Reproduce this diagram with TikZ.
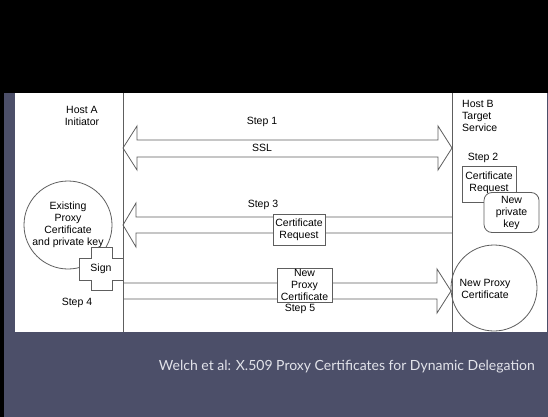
\documentclass[tikz,border=0pt]{standalone}
\usepackage{fontspec}
\setmainfont{Liberation Sans}
\newfontfamily\capfont{Lato}
\usepackage{xcolor}
\definecolor{slate}{HTML}{4C4F69}
\definecolor{linegray}{HTML}{5E5E5E}
\definecolor{capgray}{HTML}{E2E3EA}
\usepackage{tikz}
\usetikzlibrary{calc}

\begin{document}
\begin{tikzpicture}[x=1pt,y=-1pt,
			line/.style={draw=linegray,line width=0.8pt},
			txt/.style={font=\fontsize{10.5}{12}\selectfont,align=center,inner sep=0pt},
			box/.style={line,fill=white,font=\fontsize{10.5}{12}\selectfont,align=center,inner sep=0pt},
			]
			\useasboundingbox (0,0) rectangle (548,417);
			% 背景
			\fill[black] (0,0) rectangle (548,93);
			\fill[slate] (0,93) rectangle (548,417);
			\fill[black] (0,93) rectangle (4,417);
			\fill[white] (15,93) rectangle (547,332);
			
			% 两条竖线
			\coordinate (LA) at (123,93);
			\coordinate (LB) at (452,93);
			\draw[line] (LA) -- (123,332);
			\draw[line] (LB) -- (452,332);
			
			% 主机
			\node[txt] (hostA) at (82,116) {Host A\\Initiator};
			\node[txt,anchor=west,align=left] (hostB) at (462,116) {Host B\\Target\\Service};
			
			% Step 1: SSL 双向箭头
			\draw[line] (123,148) -- (137,126) -- (137,140) -- (438,140) -- (438,126)
			-- (452,148) -- (438,170) -- (438,157) -- (137,157) -- (137,170) -- cycle;
			\node[txt] (step1) at (262,122) {Step 1};
			\node[txt] (ssl) at (262,148) {SSL};
			
			% Step 2
			\node[txt] (step2) at (483,158) {Step 2};
			\node[box,minimum width=54pt,minimum height=36pt] (reqB) at (489,184) {};
			\node[txt] at (489,182.5) {Certificate\\Request};
			\node[box,rounded corners=8pt,minimum width=55pt,minimum height=40pt]
			(newkey) at (511.5,212.5) {New\\private\\key};
			
			% Step 3: 向左箭头
			\draw[line] (452,217) -- (136,217) -- (136,203) -- (123,225)
			-- (136,247) -- (136,233) -- (452,233);
			\node[txt] (step3) at (263,205) {Step 3};
			\node[box,minimum width=52pt,minimum height=31pt] (reqM) at (299,229.5)
			{Certificate\\Request};
			
			% 已有代理证书与签名
			\node[line,circle,minimum size=88pt,inner sep=0pt] (oldcert) at (68,225) {};
			\node[txt] at (68,225) {Existing\\Proxy\\Certificate\\and private key};
			\draw[line,fill=white] (91,247) -- (112,247) -- (112,258) -- (123,258)
			-- (123,280) -- (112,280) -- (112,290) -- (91,290) -- (91,280)
			-- (79,280) -- (79,258) -- (91,258) -- cycle;
			\node[txt] (sign) at (101,269) {Sign};
			\node[txt] (step4) at (77,303) {Step 4};
			
			% Step 5: 向右箭头
			\draw[line] (123,283) -- (437,283) -- (437,269) -- (451,291)
			-- (437,313) -- (437,299) -- (123,299);
			\node[box,minimum width=55pt,minimum height=34pt] (newM) at (304.5,285)
			{New\\Proxy\\Certificate};
			\node[txt] (step5) at (300,309) {Step 5};
			\node[line,circle,minimum size=86pt,inner sep=0pt] (newcert) at (494,288) {};
			\node[txt] at (485,289) {New Proxy\\Certificate};
			
			% 标题
			\node[font=\capfont\fontsize{14}{16}\selectfont,text=capgray,anchor=east,
			inner sep=0pt] (caption) at (535,367)
			{Welch et al: X.509 Proxy Certificates for Dynamic Delegation};
		\end{tikzpicture}
\end{document}
